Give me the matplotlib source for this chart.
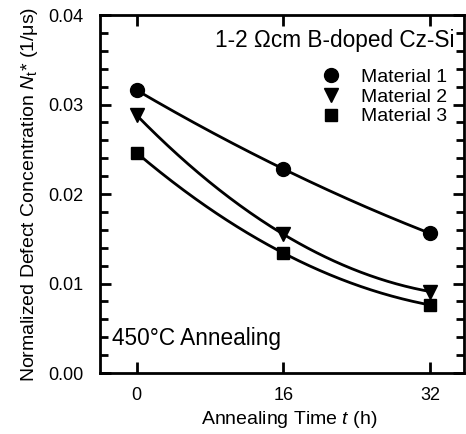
import matplotlib
matplotlib.use("Agg")
import matplotlib.pyplot as plt
import numpy as np
from matplotlib.ticker import MultipleLocator

plt.rcParams['font.family'] = ['Liberation Sans', 'DejaVu Sans']
plt.rcParams['mathtext.fontset'] = 'custom'
plt.rcParams['mathtext.rm'] = 'Liberation Sans'
plt.rcParams['mathtext.it'] = 'Liberation Sans:italic'

t = [0, 16, 32]
material1 = [0.0316, 0.0228, 0.0156]
material2 = [0.0288, 0.0155, 0.0091]
material3 = [0.0246, 0.0134, 0.0076]
labels = ["Material 1", "Material 2", "Material 3"]
markers = ["o", "v", "s"]

fig = plt.figure(figsize=(4.66, 4.34), dpi=100)
ax = fig.add_axes([100 / 466, 61 / 434, 364 / 466, 358 / 434])

tt = np.linspace(0, 32, 200)
handles = []
for y, lab, m in zip([material1, material2, material3], labels, markers):
    # smooth fit curve through the points
    c = np.polyfit(t, y, 2)
    ax.plot(tt, np.polyval(c, tt), color='black', lw=2)
    h, = ax.plot(t, y, linestyle='none', marker=m, color='black',
                 markersize=10 if m != 's' else 9, label=lab)
    handles.append(h)

ax.set_xlim(-4, 35.7)
ax.set_ylim(0, 0.04)
ax.set_xticks(t)
ax.yaxis.set_major_locator(MultipleLocator(0.01))
ax.yaxis.set_minor_locator(MultipleLocator(0.002))
ax.yaxis.set_major_formatter(matplotlib.ticker.FormatStrFormatter('%.2f'))
ax.tick_params(which='both', direction='in', top=True, right=True,
               labelsize=13, width=2)
ax.tick_params(which='major', length=8, pad=10)
ax.tick_params(axis='y', which='major', pad=12)
ax.tick_params(which='minor', length=6)
for s in ax.spines.values():
    s.set_linewidth(2)

ax.set_xlabel("Annealing Time $t$ (h)", fontsize=14, labelpad=6)
ax.xaxis.set_label_coords(0.519, -0.1)
ax.set_ylabel("Normalized Defect Concentration $N_\\mathrm{t}$* (1/μs)",
              fontsize=14, labelpad=6)

ax.text(0.975, 0.928, "1-2 Ωcm B-doped Cz-Si", transform=ax.transAxes,
        ha='right', va='center', fontsize=16.3)
ax.text(0.032, 0.095, "450°C Annealing", transform=ax.transAxes,
        ha='left', va='center', fontsize=16.3)

ax.legend(handles=handles, loc='upper right', bbox_to_anchor=(0.99, 0.89),
          frameon=False, fontsize=14, handlelength=1.0, handletextpad=1.0,
          labelspacing=0.12, borderpad=0.2)

fig.savefig("out.png", dpi=100)
